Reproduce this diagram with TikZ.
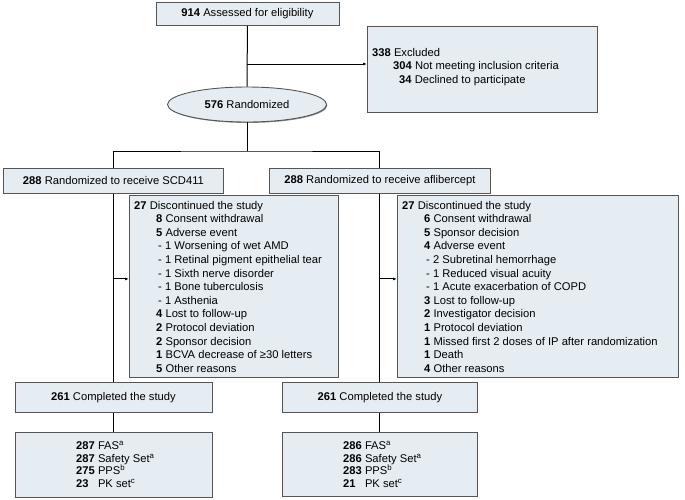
\documentclass[tikz,border=0pt]{standalone}
\usepackage{fontspec}
\setmainfont{Liberation Sans}
\usetikzlibrary{shapes.geometric,shadows,arrows.meta}
\definecolor{boxfill}{HTML}{E5EDF2}
\definecolor{boxline}{HTML}{555555}
\begin{document}
\begin{tikzpicture}[x=1pt,y=-1pt,
  box/.style={draw=boxline, fill=boxfill, line width=0.9pt,
    drop shadow={shadow xshift=0.9pt,shadow yshift=-0.9pt,opacity=0.45,fill=black},
    inner sep=0pt, anchor=north west, font=\fontsize{11.2}{13.6}\selectfont},
  txt/.style={inner sep=0pt, align=left, anchor=north west, font=\fontsize{11.2}{13.6}\selectfont},
  settxt/.style={txt, font=\fontsize{11.2}{12.8}\selectfont},
  conn/.style={line width=1pt, draw=black},
  arr/.style={conn, -{Latex[length=4pt,width=3pt]}}]
\useasboundingbox (0,0) rectangle (685,499);

% boxes
\node[box, minimum width=183pt, minimum height=23pt] (elig) at (155.5,2) {\textbf{914} Assessed for eligibility};
\node[box, minimum width=230pt, minimum height=86pt] (excl) at (367,26) {};
\node[ellipse, draw=boxline, fill=boxfill, line width=0.9pt, inner sep=0pt,
  drop shadow={shadow xshift=0.9pt,shadow yshift=-0.9pt,opacity=0.45,fill=black},
  minimum width=159pt, minimum height=35pt, font=\fontsize{11.2}{13.6}\selectfont] (rand) at (247,104.5) {\textbf{576} Randomized};
\node[box, minimum width=220pt, minimum height=25pt] (arm1) at (3,168) {\textbf{288} Randomized to receive SCD411};
\node[box, minimum width=221pt, minimum height=25pt] (arm2) at (269,168) {\textbf{288} Randomized to receive aflibercept};
\node[box, minimum width=209pt, minimum height=182pt] (disc1) at (129,195) {};
\node[box, minimum width=281pt, minimum height=182pt] (disc2) at (397,195) {};
\node[box, minimum width=197pt, minimum height=30pt] (comp1) at (14.5,382) {\textbf{261} Completed the study};
\node[box, minimum width=195pt, minimum height=30pt] (comp2) at (282,382) {\textbf{261} Completed the study};
\node[box, minimum width=197pt, minimum height=65pt] (set1) at (14.5,432) {};
\node[box, minimum width=195pt, minimum height=64pt] (set2) at (282,432) {};

% texts
\node[txt] (excltxt) at (372,47.8) {\textbf{338} Excluded\\
\hspace*{21pt}\textbf{304} Not meeting inclusion criteria\\
\hspace*{27pt}\textbf{34} Declined to participate};

\node[txt] (disc1txt) at (134,200.8) {\textbf{27} Discontinued the study\\
\hspace*{22pt}\textbf{8} Consent withdrawal\\
\hspace*{22pt}\textbf{5} Adverse event\\
\hspace*{24pt}- 1 Worsening of wet AMD\\
\hspace*{24pt}- 1 Retinal pigment epithelial tear\\
\hspace*{24pt}- 1 Sixth nerve disorder\\
\hspace*{24pt}- 1 Bone tuberculosis\\
\hspace*{24pt}- 1 Asthenia\\
\hspace*{22pt}\textbf{4} Lost to follow-up\\
\hspace*{22pt}\textbf{2} Protocol deviation\\
\hspace*{22pt}\textbf{2} Sponsor decision\\
\hspace*{22pt}\textbf{1} BCVA decrease of ≥30 letters\\
\hspace*{22pt}\textbf{5} Other reasons};

\node[txt] (disc2txt) at (402,200.8) {\textbf{27} Discontinued the study\\
\hspace*{22pt}\textbf{6} Consent withdrawal\\
\hspace*{22pt}\textbf{5} Sponsor decision\\
\hspace*{22pt}\textbf{4} Adverse event\\
\hspace*{24pt}- 2 Subretinal hemorrhage\\
\hspace*{24pt}- 1 Reduced visual acuity\\
\hspace*{24pt}- 1 Acute exacerbation of COPD\\
\hspace*{22pt}\textbf{3} Lost to follow-up\\
\hspace*{22pt}\textbf{2} Investigator decision\\
\hspace*{22pt}\textbf{1} Protocol deviation\\
\hspace*{22pt}\textbf{1} Missed first 2 doses of IP after randomization\\
\hspace*{22pt}\textbf{1} Death\\
\hspace*{22pt}\textbf{4} Other reasons};

\node[settxt] (set1txt) at (76,440.8) {\makebox[21.8pt][l]{\textbf{287}}FAS\textsuperscript{a}\\
\makebox[21.8pt][l]{\textbf{287}}Safety Set\textsuperscript{a}\\
\makebox[21.8pt][l]{\textbf{275}}PPS\textsuperscript{b}\\
\makebox[21.8pt][l]{\textbf{23}}PK set\textsuperscript{c}};

\node[settxt] (set2txt) at (343,440.8) {\makebox[21.8pt][l]{\textbf{286}}FAS\textsuperscript{a}\\
\makebox[21.8pt][l]{\textbf{286}}Safety Set\textsuperscript{a}\\
\makebox[21.8pt][l]{\textbf{283}}PPS\textsuperscript{b}\\
\makebox[21.8pt][l]{\textbf{21}}PK set\textsuperscript{c}};

% connectors
\coordinate (j1) at (247,64);
\coordinate (j2) at (247,151);
\draw[conn] (elig.south) -- (rand.north);
\draw[arr] (j1) -- (j1 -| excl.west);
\draw[conn] (rand.south) -- (j2);
\draw[conn] (arm1.north) |- (j2) -| (arm2.north);
\draw[conn] (arm1.south) -- (comp1.north);
\draw[conn] (arm2.south) -- (comp2.north);
\path (arm1.south) ++(0,85) coordinate (a1);
\path (arm2.south) ++(0,85) coordinate (a2);
\draw[arr] (a1) -- (a1 -| disc1.west);
\draw[arr] (a2) -- (a2 -| disc2.west);
\draw[conn] (comp1.south) -- (set1.north);
\draw[conn] (comp2.south) -- (set2.north);
\end{tikzpicture}
\end{document}
